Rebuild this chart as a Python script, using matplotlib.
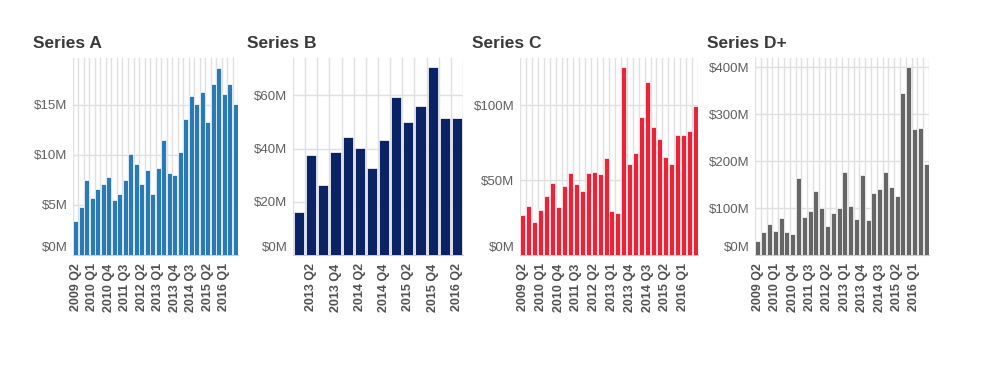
import matplotlib
matplotlib.use("Agg")
import matplotlib.pyplot as plt
import matplotlib.transforms as mtransforms
import numpy as np

plt.rcParams["font.family"] = ["Liberation Sans", "DejaVu Sans"]

# quarters 2009 Q2 .. 2016 Q3 (series A, C, D)
quarters = ["2009 Q2", "2009 Q3", "2009 Q4",
            "2010 Q1", "2010 Q2", "2010 Q3", "2010 Q4",
            "2011 Q1", "2011 Q2", "2011 Q3", "2011 Q4",
            "2012 Q1", "2012 Q2", "2012 Q3", "2012 Q4",
            "2013 Q1", "2013 Q2", "2013 Q3", "2013 Q4",
            "2014 Q1", "2014 Q2", "2014 Q3", "2014 Q4",
            "2015 Q1", "2015 Q2", "2015 Q3", "2015 Q4",
            "2016 Q1", "2016 Q2", "2016 Q3"]
# quarters 2013 Q1 .. 2016 Q2 (series B)
quarters_b = ["2013 Q1", "2013 Q2", "2013 Q3", "2013 Q4",
              "2014 Q1", "2014 Q2", "2014 Q3", "2014 Q4",
              "2015 Q1", "2015 Q2", "2015 Q3", "2015 Q4",
              "2016 Q1", "2016 Q2"]

# values in $M
series_a = [3.4, 4.8, 7.5, 5.7, 6.6, 7.1, 7.8, 5.5, 6.1, 7.5,
            10.1, 9.1, 7.1, 8.5, 6.1, 8.7, 11.5, 8.2, 8.0, 10.3,
            13.6, 15.9, 15.1, 16.3, 13.3, 17.1, 18.7, 16.1, 17.1, 15.1]
series_b = [16.3, 37.4, 26.2, 38.6, 44.4, 40.1, 32.7, 43.2, 59.3, 49.8,
            56.0, 70.5, 51.4, 51.4]
series_c = [26.6, 32.6, 22.3, 30.4, 39.3, 48.2, 32.4, 46.4, 54.7, 47.3,
            42.9, 54.7, 55.6, 54.0, 65.0, 29.5, 28.1, 125.4, 60.7, 67.9,
            92.4, 115.8, 85.7, 77.5, 65.6, 60.7, 80.4, 80.4, 82.6, 99.8]
series_d = [29, 49, 67, 51, 79, 49, 44, 165, 82, 94,
            136, 100, 62, 89, 100, 176, 105, 77, 170, 75,
            132, 141, 176, 146, 126, 346, 400, 268, 270, 193]

panels = [
    # title, cats, values, color, ymax, ytick step, label start, label step, title x, left, width
    ("Series A", quarters, series_a, "#2a7ab6", 19.7, 5, 0, 3, 33, 73, 165),
    ("Series B", quarters_b, series_b, "#0b2265", 74, 20, 1, 2, 247, 293, 170),
    ("Series C", quarters, series_c, "#ea2339", 131.7, 50, 0, 3, 472, 520, 178),
    ("Series D+", quarters, series_d, "#666666", 420, 100, 0, 3, 707, 755, 174),
]

W, H = 995, 370
fig = plt.figure(figsize=(W / 100, H / 100), dpi=100)

for title, cats, vals, color, ymax, step, start, lstep, tx, left, width in panels:
    ax = fig.add_axes([left / W, (H - 255) / H, width / W, 197 / H])
    n = len(cats)
    x = np.arange(n)
    ax.bar(x, vals, width=0.84, color=color, edgecolor="white", linewidth=0.5, zorder=3)
    ax.set_xlim(-0.5, n - 0.5)
    ax.set_ylim(0, ymax)

    yt = np.arange(0, ymax, step)
    ax.set_yticks(yt)
    ax.set_yticklabels(["$%dM" % v for v in yt], color="#606060", fontsize=9.5)
    ax.tick_params(axis="y", length=0, pad=4)
    # zero label sits a little above the baseline
    lab0 = ax.get_yticklabels()[0]
    lab0.set_transform(lab0.get_transform() +
                       mtransforms.ScaledTranslation(0, 8 / 100, fig.dpi_scale_trans))

    ticks = x[start::lstep]
    ax.set_xticks(ticks)
    ax.set_xticklabels([cats[i] for i in ticks], rotation=90, fontsize=9,
                       fontweight="bold", color="#505050")
    ax.tick_params(axis="x", length=0, pad=6)
    ax.set_xticks(np.arange(n + 1) - 0.5, minor=True)
    ax.tick_params(axis="x", which="minor", length=0)

    ax.grid(axis="x", which="minor", color="#e0e0e0", linewidth=1, zorder=0)
    ax.grid(axis="y", which="major", color="#e0e0e0", linewidth=1, zorder=0)
    for s in ["top", "right", "left"]:
        ax.spines[s].set_visible(False)
    ax.spines["bottom"].set_color("#cccccc")

    fig.text(tx / W, (H - 48) / H, title, fontsize=12.5,
             fontweight="bold", color="#3a3a3a", ha="left", va="baseline")

fig.savefig("out.png", dpi=100, facecolor="white")
